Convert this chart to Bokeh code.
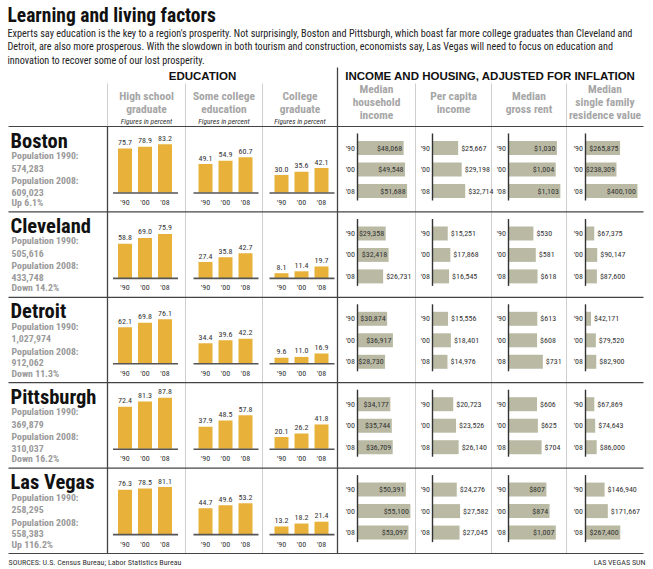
from bokeh.plotting import figure
from bokeh.models import Range1d
from bokeh.embed import file_html
from bokeh.resources import INLINE
from bokeh.core.properties import value

# ---------------- data ----------------
cities = ["Boston", "Cleveland", "Detroit", "Pittsburgh", "Las Vegas"]
pop1990 = ["574,283", "505,616", "1,027,974", "369,879", "258,295"]
pop2008 = ["609,023", "433,748", "912,062", "310,037", "558,383"]
pop_change = ["Up 6.1%", "Down 14.2%", "Down 11.3%", "Down 16.2%", "Up 116.2%"]
years = ["'90", "'00", "'08"]

high_school = [[75.7, 78.9, 83.2], [58.8, 69.0, 75.9], [62.1, 69.8, 76.1], [72.4, 81.3, 87.8], [76.3, 78.5, 81.1]]
some_college = [[49.1, 54.9, 60.7], [27.4, 35.8, 42.7], [34.4, 39.6, 42.2], [37.9, 48.5, 57.8], [44.7, 49.6, 53.2]]
college_grad = [[30.0, 35.6, 42.1], [8.1, 11.4, 19.7], [9.6, 11.0, 16.9], [20.1, 26.2, 41.8], [13.2, 18.2, 21.4]]

household_income = [[48068, 49548, 51688], [29358, 32418, 26731], [30874, 36917, 28730], [34177, 35744, 36709], [50391, 55100, 53097]]
per_capita_income = [[25667, 29198, 32714], [15251, 17868, 16545], [15556, 18401, 14976], [20723, 23526, 26140], [24276, 27582, 27045]]
gross_rent = [[1030, 1004, 1103], [530, 581, 618], [613, 608, 731], [606, 625, 704], [807, 874, 1007]]
residence_value = [[265875, 238309, 400100], [67375, 90147, 87600], [42171, 79520, 82900], [67869, 74643, 86000], [146940, 171667, 267400]]

edu_headers = [["High school", "graduate"], ["Some college", "education"], ["College", "graduate"]]
inc_headers = [["Median", "household", "income"], ["Per capita", "income"], ["Median", "gross rent"], ["Median", "single family", "residence value"]]

title = "Learning and living factors"
intro = ["Experts say education is the key to a region's prosperity. Not surprisingly, Boston and Pittsburgh, which boast far more college graduates than Cleveland and",
         "Detroit, are also more prosperous. With the slowdown in both tourism and construction, economists say, Las Vegas will need to focus on education and",
         "innovation to recover some of our lost prosperity."]
source = "SOURCES: U.S. Census Bureau; Labor Statistics Bureau"
credit = "LAS VEGAS SUN"

# ---------------- style / layout ----------------
NARROW = "Roboto Condensed"
SANS = "Liberation Sans"
GOLD = "#E8B23A"
KHAKI = "#BABAA4"
DARK = "#444444"
LIGHT = "#CFCFCF"
GRAY_TXT = "#9A9A9A"

W, H = 653, 569
p = figure(width=W, height=H, x_range=Range1d(0, W), y_range=Range1d(H, 0),
           output_backend="svg", toolbar_location=None, min_border=0,
           x_axis_location=None, y_axis_location=None)
p.grid.visible = False
p.outline_line_color = None
p.background_fill_color = "white"
p.border_fill_color = "white"


def texts(xs, ys, ss, size, color="#222222", font=NARROW, style="normal", align="left", baseline="middle"):
    p.text(x=xs, y=ys, text=ss, text_font=value(font), text_font_size=f"{size}px",
           text_font_style=style, text_color=color, text_align=align, text_baseline=baseline)


# title + intro
texts([7], [15], [title], 19.5, color="#111111", style="bold")
texts([7] * 3, [32.5, 46, 59.5], intro, 10.2, color="#222222")

# section headers
texts([202], [75], ["EDUCATION"], 11.5, color="#111111", font=SANS, style="bold", align="center")
texts([490], [75], ["INCOME AND HOUSING, ADJUSTED FOR INFLATION"], 11.5, color="#111111", font=SANS, style="bold", align="center")

col_bounds = [107, 185, 262, 337, 415, 491, 566, 643]
HEAD_BOTTOM = 126
ROW_H = 85.4
row_tops = [HEAD_BOTTOM + i * ROW_H for i in range(len(cities))]
BOTTOM = row_tops[-1] + ROW_H

# column headers
for j, lines in enumerate(edu_headers):
    cx = (col_bounds[j] + col_bounds[j + 1]) / 2
    texts([cx] * len(lines), [95, 108], lines, 11.5, color="#A6A6A6", style="bold", align="center")
    texts([cx], [120.5], ["Figures in percent"], 7.5, color="#333333", style="italic", align="center")
for j, lines in enumerate(inc_headers):
    cx = (col_bounds[j + 3] + col_bounds[j + 4]) / 2
    ys = [88, 101, 114] if len(lines) == 3 else [95, 108]
    texts([cx] * len(lines), ys, lines, 11.5, color="#A6A6A6", style="bold", align="center")

# grid lines
p.segment(x0=[107, 185, 262, 415, 491, 566], y0=[83] * 6,
          x1=[107, 185, 262, 415, 491, 566], y1=[HEAD_BOTTOM, BOTTOM, BOTTOM, BOTTOM, BOTTOM, BOTTOM],
          line_color=LIGHT, line_width=1)
p.segment(x0=[107, 337], y0=[HEAD_BOTTOM, 67], x1=[107, 337], y1=[BOTTOM, BOTTOM],
          line_color=DARK, line_width=1.3)
hy = [HEAD_BOTTOM] + [t + ROW_H for t in row_tops]
p.segment(x0=[8] * len(hy), y0=hy, x1=[643] * len(hy), y1=hy, line_color=DARK, line_width=1.2)

# left column: city info
for i, c in enumerate(cities):
    t = row_tops[i]
    texts([10], [t + 14], [c], 20.5, color="#111111", style="bold")
    texts([11] * 5, [t + 29, t + 41.5, t + 54, t + 65.5, t + 76],
          ["Population 1990:", pop1990[i], "Population 2008:", pop2008[i], pop_change[i]],
          9.8, color=GRAY_TXT, style="bold")

# education bar panels
EDU_SCALE = 0.58     # px per percent
edu_centers = [144.5, 225, 301]
offsets = [-20, 0, 20]
for j, data in enumerate([high_school, some_college, college_grad]):
    for i in range(len(cities)):
        base = row_tops[i] + 66
        xs = [edu_centers[j] + o for o in offsets]
        tops = [base - v * EDU_SCALE for v in data[i]]
        p.quad(left=[x - 7 for x in xs], right=[x + 7 for x in xs], top=tops, bottom=[base] * 3,
               fill_color=GOLD, line_color=None)
        p.segment(x0=[edu_centers[j] - 32], y0=[base + 0.5], x1=[edu_centers[j] + 33], y1=[base + 0.5],
                  line_color="#555555", line_width=1.6)
        texts(xs, [tt - 6 for tt in tops], [f"{v:.1f}" for v in data[i]], 8, color="#333333", align="center")
        texts(xs, [base + 10] * 3, years, 8, color="#333333", align="center")

# income / housing bar panels
inc_axes = [357, 432, 508, 585]
inc_scales = [0.96 / 1000, 1.0 / 1000, 0.047, 0.13 / 1000]
inside_min = [28000, None, 780, 200000]
bar_offsets = [21.5, 43, 64.5]
for j, data in enumerate([household_income, per_capita_income, gross_rent, residence_value]):
    ax = inc_axes[j]
    for i in range(len(cities)):
        t = row_tops[i]
        ys = [t + o for o in bar_offsets]
        rights = [ax + v * inc_scales[j] for v in data[i]]
        p.quad(left=[ax] * 3, right=rights, top=[y - 7 for y in ys], bottom=[y + 7 for y in ys],
               fill_color=KHAKI, line_color=None)
        p.segment(x0=[ax], y0=[t + 7], x1=[ax], y1=[t + 74], line_color="#333333", line_width=1.4)
        texts([ax - 2.5] * 3, ys, years, 8, color="#333333", align="right")
        labels = [f"${v:,}" for v in data[i]]
        for k, v in enumerate(data[i]):
            if inside_min[j] is not None and v >= inside_min[j]:
                texts([rights[k] - 1.5], [ys[k]], [labels[k]], 8, color="#333333", align="right")
            else:
                texts([rights[k] + 3], [ys[k]], [labels[k]], 8, color="#333333", align="left")

# footer
texts([8], [562], [source], 8, color="#333333")
texts([645], [562], [credit], 8, color="#333333", align="right")

open("out.html", "w").write(file_html(p, INLINE))
